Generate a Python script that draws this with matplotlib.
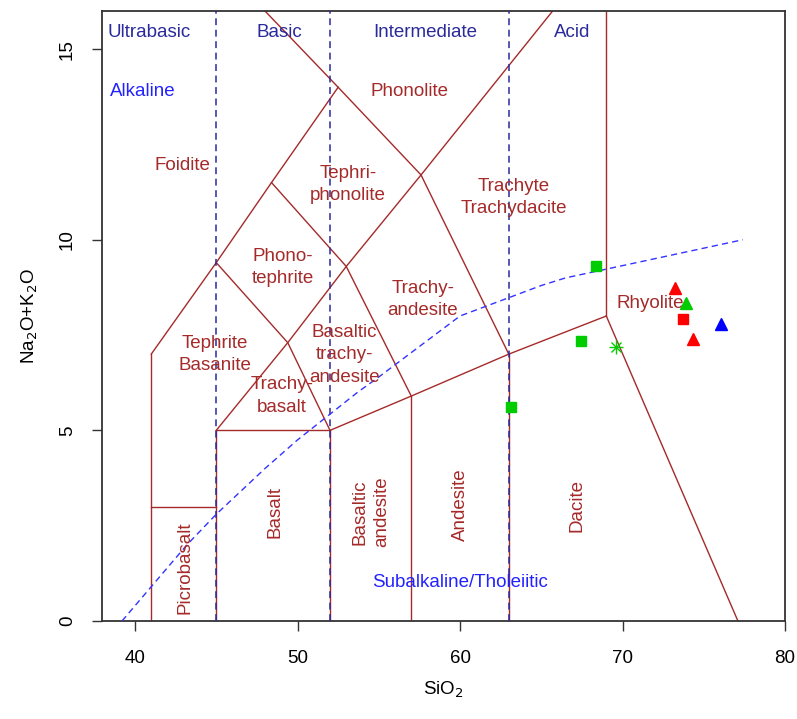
import matplotlib
matplotlib.use('Agg')
import matplotlib.pyplot as plt

plt.rcParams['font.family'] = ['Liberation Sans', 'DejaVu Sans']

# --- samples (SiO2, Na2O+K2O) ---
green_sq_x = [68.35, 67.43, 63.12]
green_sq_y = [9.32, 7.34, 5.61]
green_star_x = [69.6]
green_star_y = [7.2]
green_tri_x = [73.9]
green_tri_y = [8.35]
red_tri_x = [73.23, 74.32]
red_tri_y = [8.74, 7.40]
red_sq_x = [73.74]
red_sq_y = [7.91]
blue_tri_x = [76.04]
blue_tri_y = [7.78]

# --- TAS boundaries (Le Bas et al. 1986) ---
tas_lines = [
    ([41, 41], [0, 7]),
    ([41, 45], [3, 3]),
    ([45, 45], [0, 5]),
    ([52, 52], [0, 5]),
    ([57, 57], [0, 5.9]),
    ([63, 63], [0, 7]),
    ([45, 52], [5, 5]),
    ([52, 57, 63, 69], [5, 5.9, 7, 8]),
    ([69, 69], [8, 16]),
    ([69, 77.1], [8, 0]),
    ([41, 45, 48.4, 52.5], [7, 9.4, 11.5, 14]),
    ([48, 52.5, 57.6], [16, 14, 11.7]),
    ([57.6, 65.7], [11.7, 16]),
    ([45, 49.4, 52], [9.4, 7.3, 5]),
    ([45, 49.4, 53, 57.6], [5, 7.3, 9.3, 11.7]),
    ([48.4, 53, 57], [11.5, 9.3, 5.9]),
    ([57.6, 63], [11.7, 7]),
]

# Irvine & Baragar alkaline / subalkaline divide
ib_x = [39.2, 40, 43.2, 45, 48, 50, 53.7, 55, 60, 65, 66.5, 77.4]
ib_y = [0, 0.4, 2, 2.8, 4, 4.75, 6, 6.4, 8, 8.8, 9, 10]

silica_bounds = [45, 52, 63]

field_labels = [
    ('Foidite', 42.9, 11.94, 0),
    ('Phonolite', 56.9, 13.9, 0),
    ('Tephri-\nphonolite', 53.1, 11.44, 0),
    ('Trachyte\nTrachydacite', 63.3, 11.1, 0),
    ('Phono-\ntephrite', 49.1, 9.27, 0),
    ('Trachy-\nandesite', 57.7, 8.43, 0),
    ('Tephrite\nBasanite', 44.9, 6.98, 0),
    ('Basaltic\ntrachy-\nandesite', 52.9, 6.98, 0),
    ('Rhyolite', 71.7, 8.32, 0),
    ('Trachy-\nbasalt', 49.05, 5.9, 0),
    ('Picrobasalt', 43.1, 1.39, 90),
    ('Basalt', 48.6, 2.86, 90),
    ('Basaltic\nandesite', 54.5, 2.86, 90),
    ('Andesite', 60.0, 3.04, 90),
    ('Dacite', 67.2, 3.04, 90),
]
silica_labels = [('Ultrabasic', 40.9), ('Basic', 48.9), ('Intermediate', 57.85), ('Acid', 66.9)]

brown = '#A52A2A'
navy = '#2A2A9C'
fs = 13.5

fig = plt.figure(figsize=(7.97, 7.19), dpi=100)
ax = fig.add_axes([0.1286, 0.1363, 0.8564, 0.8484])

for xs, ys in tas_lines:
    ax.plot(xs, ys, color=brown, lw=1.0, zorder=2)

for sx in silica_bounds:
    ax.plot([sx, sx], [0, 16], color=navy, lw=1.1, dashes=(4.5, 3), zorder=3)

ax.plot(ib_x, ib_y, color='#3333FF', lw=1.0, dashes=(4.5, 3), zorder=3)

for txt, x, y, rot in field_labels:
    ax.text(x, y, txt, color=brown, fontsize=fs, rotation=rot,
            ha='center', va='center', linespacing=1.4, zorder=4)
for txt, x in silica_labels:
    ax.text(x, 15.43, txt, color=navy, fontsize=fs, ha='center', va='center')
ax.text(40.5, 13.9, 'Alkaline', color='#2222FF', fontsize=fs, ha='center', va='center')
ax.text(60.0, 1.0, 'Subalkaline/Tholeiitic', color='#2222FF', fontsize=fs, ha='center', va='center')

ax.plot(green_sq_x, green_sq_y, 's', color='#00CC00', ms=7, zorder=5)
ax.plot(green_tri_x, green_tri_y, '^', color='#00CC00', ms=8, zorder=5)
ax.plot(green_star_x, green_star_y, '+', color='#00CC00', ms=10, mew=1.0, zorder=5)
ax.plot(green_star_x, green_star_y, 'x', color='#00CC00', ms=7.5, mew=1.0, zorder=5)
ax.plot(red_tri_x, red_tri_y, '^', color='red', ms=8, zorder=5)
ax.plot(red_sq_x, red_sq_y, 's', color='red', ms=7, zorder=5)
ax.plot(blue_tri_x, blue_tri_y, '^', color='blue', ms=8, zorder=5)

ax.set_xlim(38, 80)
ax.set_ylim(0, 16)
ax.set_xticks([40, 50, 60, 70, 80])
ax.set_yticks([0, 5, 10, 15])
ax.tick_params(axis='both', labelsize=fs, length=7, width=1.0, color='#333333')
ax.tick_params(axis='x', pad=14)
ax.tick_params(axis='y', pad=12)
for lab in ax.get_yticklabels():
    lab.set_rotation(90)
    lab.set_va('center')
for sp in ax.spines.values():
    sp.set_linewidth(1.3)
    sp.set_color('#333333')

ax.set_xlabel('SiO$_2$', fontsize=fs, labelpad=9)
ax.set_ylabel('Na$_2$O+K$_2$O', fontsize=fs, labelpad=14)

fig.savefig('out.png', dpi=100)
